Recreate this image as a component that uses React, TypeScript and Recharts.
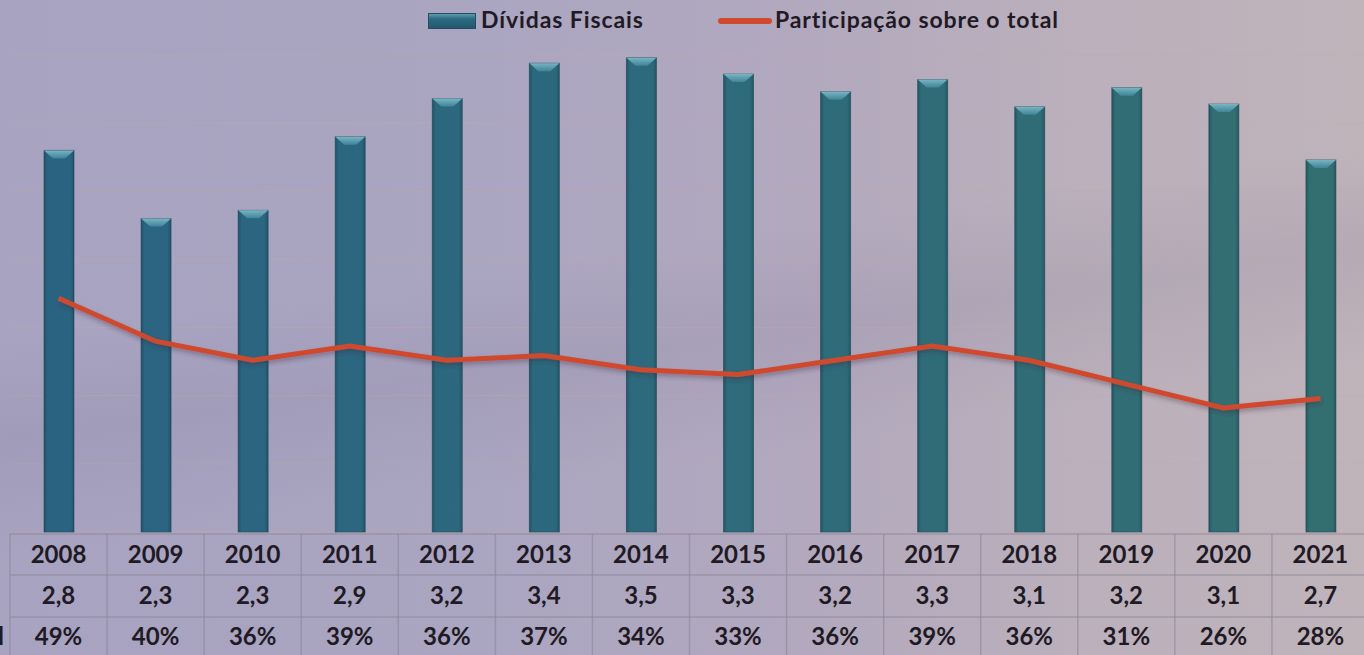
import React from "react";
import {
  ComposedChart,
  Bar,
  Line,
  XAxis,
  YAxis,
  CartesianGrid,
  Legend,
} from "recharts";

const years = ["2008", "2009", "2010", "2011", "2012", "2013", "2014", "2015", "2016", "2017", "2018", "2019", "2020", "2021"];
const debtValues = [2.8, 2.3, 2.36, 2.9, 3.18, 3.44, 3.48, 3.36, 3.23, 3.32, 3.12, 3.26, 3.14, 2.73];
const debtLabels = ["2,8", "2,3", "2,3", "2,9", "3,2", "3,4", "3,5", "3,3", "3,2", "3,3", "3,1", "3,2", "3,1", "2,7"];
const shareValues = [49, 40, 36, 39, 36, 37, 34, 33, 36, 39, 36, 31, 26, 28];
const debtTicks = [0, 0.5, 1, 1.5, 2, 2.5, 3, 3.5];

const data = years.map((year, i) => ({
  year,
  debt: debtValues[i],
  share: shareValues[i] / 100,
}));

const CHART_W = 1400;
const CHART_H = 655;
const LEGEND_H = 40;
const MARGIN = { top: 15, right: 31, bottom: 0, left: 10 };
const PLOT_W = CHART_W - MARGIN.left - MARGIN.right;
const BAND = PLOT_W / years.length;
const FONT = "Lato, 'Open Sans', sans-serif";
const TEXT = "#1f1a24";
const GRID = "#8e8698";

function BeveledBar(props: any) {
  const { x, y, width, height } = props;
  if (!height || height <= 0) return null;
  const b = Math.min(9, width / 3);
  return (
    <g>
      <rect x={x} y={y} width={width} height={height} fill="url(#barFill)" stroke="#244e5e" strokeOpacity={0.6} />
      <rect x={x} y={y} width={width} height={height} fill="url(#barEdges)" />
      <polygon
        points={`${x},${y} ${x + width},${y} ${x + width - b},${y + 8} ${x + b},${y + 8}`}
        fill="url(#bevelFill)"
      />
    </g>
  );
}

function TableTick(props: any) {
  const { x, y, payload } = props;
  const i = payload.index;
  const left = x - BAND / 2;
  const rows = [y + 2, y + 43, y + 85];
  const textStyle = { fontFamily: FONT, fontWeight: 700, fontSize: 24, fill: TEXT };
  return (
    <g>
      {rows.map((ry) => (
        <line key={ry} x1={left} x2={left + BAND} y1={ry} y2={ry} stroke={GRID} strokeOpacity={0.6} strokeWidth={1.5} />
      ))}
      <line x1={left} x2={left} y1={y + 2} y2={y + 130} stroke={GRID} strokeOpacity={0.6} strokeWidth={1.5} />
      {i === years.length - 1 && (
        <line x1={left + BAND} x2={left + BAND} y1={y + 2} y2={y + 130} stroke={GRID} strokeOpacity={0.6} strokeWidth={1.5} />
      )}
      <text x={x} y={y + 31} textAnchor="middle" style={textStyle}>{years[i]}</text>
      <text x={x} y={y + 72} textAnchor="middle" style={textStyle}>{debtLabels[i]}</text>
      <text x={x} y={y + 113} textAnchor="middle" style={textStyle}>{shareValues[i]}%</text>
      {i === 0 && (
        <text x={left - 6} y={y + 113} textAnchor="end" style={textStyle}>Participação sobre o total</text>
      )}
    </g>
  );
}

function LegendContent() {
  const label: React.CSSProperties = {
    position: "absolute",
    top: 5,
    fontFamily: FONT,
    fontWeight: 700,
    fontSize: 23,
    letterSpacing: 0.9,
    lineHeight: "28px",
    color: TEXT,
    whiteSpace: "nowrap",
  };
  return (
    <div style={{ position: "relative", height: LEGEND_H }}>
      <span
        style={{
          position: "absolute",
          left: 428,
          top: 13,
          width: 48,
          height: 16,
          background: "linear-gradient(180deg, #5d9bb0 0%, #2c6a82 35%, #23586d 100%)",
          border: "1px solid #244e5e",
          boxSizing: "border-box",
        }}
      />
      <span style={{ ...label, left: 481 }}>Dívidas Fiscais</span>
      <span
        style={{
          position: "absolute",
          left: 718,
          top: 18,
          width: 54,
          height: 6,
          borderRadius: 3,
          background: "#cf4a2e",
        }}
      />
      <span style={{ ...label, left: 775 }}>Participação sobre o total</span>
    </div>
  );
}

export default function App() {
  return (
    <div
      style={{
        position: "relative",
        width: 1364,
        height: 655,
        overflow: "hidden",
        background:
          "linear-gradient(172deg, rgba(255,255,255,0) 40%, rgba(110,100,135,0.12) 52%, rgba(255,255,255,0) 66%), linear-gradient(90deg, #a7a3c0 0%, #aaa5c1 35%, #b2a9be 60%, #bbb0bb 80%, #bfb4ba 100%)",
      }}
    >
      <style>{"body{margin:0}"}</style>
      <ComposedChart width={CHART_W} height={CHART_H} data={data} margin={MARGIN}>
        <defs>
          <linearGradient id="barFill" x1="0" y1="0" x2="1364" y2="0" gradientUnits="userSpaceOnUse">
            <stop offset="0%" stopColor="#2a6382" />
            <stop offset="50%" stopColor="#2d6a7c" />
            <stop offset="100%" stopColor="#336f70" />
          </linearGradient>
          <linearGradient id="barEdges" x1="0" y1="0" x2="1" y2="0">
            <stop offset="0%" stopColor="#0f2f3c" stopOpacity={0.35} />
            <stop offset="12%" stopColor="#0f2f3c" stopOpacity={0} />
            <stop offset="88%" stopColor="#0f2f3c" stopOpacity={0} />
            <stop offset="100%" stopColor="#0f2f3c" stopOpacity={0.35} />
          </linearGradient>
          <linearGradient id="bevelFill" x1="0" y1="0" x2="0" y2="1">
            <stop offset="0%" stopColor="#79b4c2" />
            <stop offset="100%" stopColor="#3f8499" />
          </linearGradient>
          <filter id="lineShadow" x="-5%" y="-20%" width="110%" height="140%">
            <feDropShadow dx="1" dy="3" stdDeviation="2" floodColor="#3a2a3a" floodOpacity="0.35" />
          </filter>
        </defs>
        <CartesianGrid yAxisId="left" vertical={false} stroke="#c9a9a0" strokeOpacity={0.35} />
        <XAxis
          dataKey="year"
          axisLine={false}
          tickLine={false}
          tickSize={0}
          tickMargin={0}
          height={123}
          interval={0}
          tick={<TableTick />}
        />
        <YAxis yAxisId="left" hide domain={[0, 3.5]} ticks={debtTicks} />
        <YAxis yAxisId="right" hide orientation="right" domain={[0, 1]} />
        <Legend
          verticalAlign="top"
          height={LEGEND_H}
          wrapperStyle={{ top: 0, left: 0, width: 1364 }}
          content={<LegendContent />}
        />
        <Bar
          yAxisId="left"
          dataKey="debt"
          name="Dívidas Fiscais"
          barSize={30}
          shape={<BeveledBar />}
          isAnimationActive={false}
        />
        <Line
          yAxisId="right"
          dataKey="share"
          name="Participação sobre o total"
          type="linear"
          stroke="#cf4a2e"
          strokeWidth={5}
          dot={false}
          activeDot={false}
          filter="url(#lineShadow)"
          isAnimationActive={false}
        />
      </ComposedChart>
    </div>
  );
}
